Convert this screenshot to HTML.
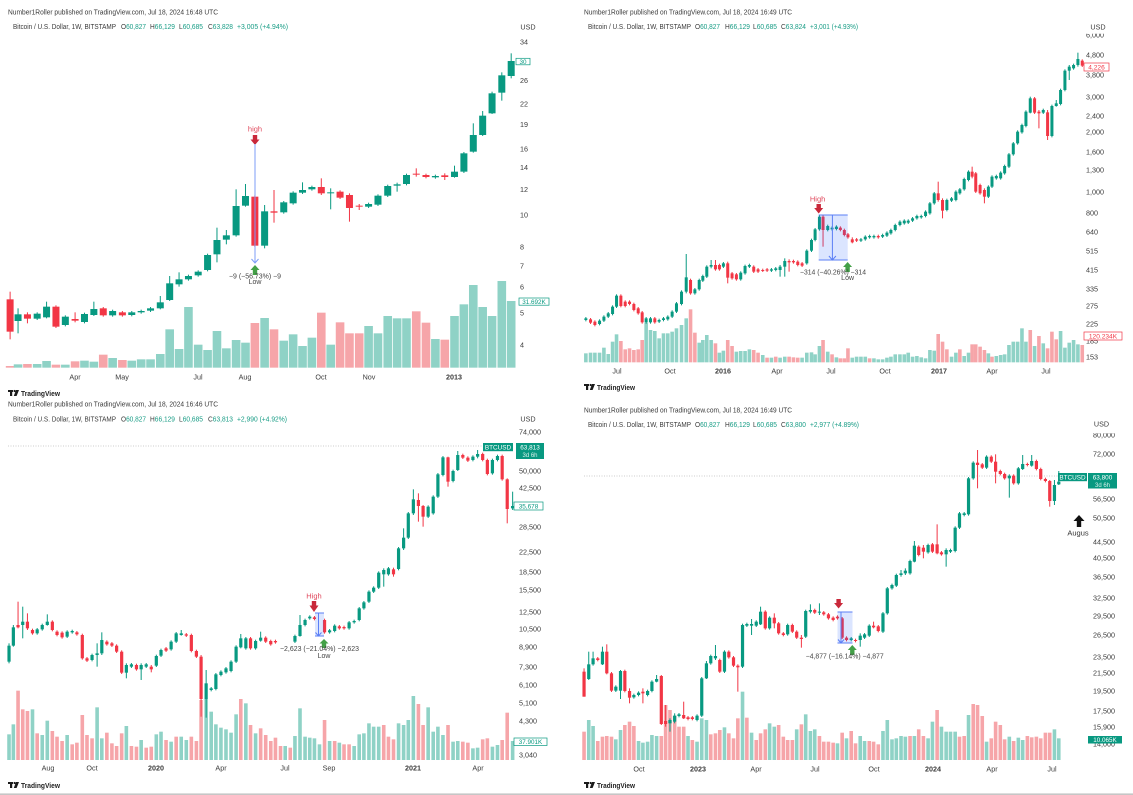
<!DOCTYPE html>
<html><head><meta charset="utf-8"><style>
html,body{margin:0;padding:0;background:#fff;}
svg{display:block;font-family:"Liberation Sans",sans-serif;}
.h{font-size:7px;fill:#3a3a3a}
.ax{font-size:7.2px;fill:#3b3b3b}
.tm{font-size:7.2px;fill:#3b3b3b;text-anchor:middle}
.b{font-weight:bold}
.gr{fill:#179c85}
.dk{fill:#3a3a3a}
.ann{font-size:7px;fill:#444;text-anchor:middle}
.tv{font-size:7.5px;fill:#222;font-weight:bold}
</style></head><body>
<svg id="s" width="1133" height="795" viewBox="0 0 1133 795" xmlns="http://www.w3.org/2000/svg">
<rect width="1133" height="795" fill="#fff"/>
<!-- price lines -->
<line x1="8" y1="446" x2="483" y2="446" stroke="#bdbdbd" stroke-width="0.8" stroke-dasharray="1,1.5"/>
<line x1="584" y1="476" x2="1058" y2="476" stroke="#bdbdbd" stroke-width="0.8" stroke-dasharray="1,1.5"/>
<g id="g1"></g><g id="g2"></g><g id="g3"></g><g id="g4"></g>

<!-- ===== headers ===== -->
<text class="h" x="8" y="14.5" textLength="210" lengthAdjust="spacingAndGlyphs">Number1Roller published on TradingView.com, Jul 18, 2024 16:48 UTC</text>
<text class="h" x="584" y="14.5" textLength="208" lengthAdjust="spacingAndGlyphs">Number1Roller published on TradingView.com, Jul 18, 2024 16:49 UTC</text>
<text class="h" x="8" y="406.5" textLength="210" lengthAdjust="spacingAndGlyphs">Number1Roller published on TradingView.com, Jul 18, 2024 16:46 UTC</text>
<text class="h" x="584" y="412.5" textLength="208" lengthAdjust="spacingAndGlyphs">Number1Roller published on TradingView.com, Jul 18, 2024 16:49 UTC</text>

<!-- legend P1 -->
<g class="h">
<text x="13" y="28.8" textLength="103" lengthAdjust="spacingAndGlyphs">Bitcoin / U.S. Dollar, 1W, BITSTAMP</text>
<text x="121" y="28.8" textLength="25" lengthAdjust="spacingAndGlyphs"><tspan class="dk">O</tspan><tspan class="gr">60,827</tspan></text>
<text x="150" y="28.8" textLength="25" lengthAdjust="spacingAndGlyphs"><tspan class="dk">H</tspan><tspan class="gr">66,129</tspan></text>
<text x="179" y="28.8" textLength="24" lengthAdjust="spacingAndGlyphs"><tspan class="dk">L</tspan><tspan class="gr">60,685</tspan></text>
<text x="208" y="28.8" textLength="25" lengthAdjust="spacingAndGlyphs"><tspan class="dk">C</tspan><tspan class="gr">63,828</tspan></text>
<text class="gr" x="237" y="28.8" textLength="51" lengthAdjust="spacingAndGlyphs">+3,005 (+4.94%)</text>
</g>
<!-- legend P2 -->
<g class="h">
<text x="588" y="28.8" textLength="103" lengthAdjust="spacingAndGlyphs">Bitcoin / U.S. Dollar, 1W, BITSTAMP</text>
<text x="695" y="28.8" textLength="25" lengthAdjust="spacingAndGlyphs"><tspan class="dk">O</tspan><tspan class="gr">60,827</tspan></text>
<text x="725" y="28.8" textLength="25" lengthAdjust="spacingAndGlyphs"><tspan class="dk">H</tspan><tspan class="gr">66,129</tspan></text>
<text x="753" y="28.8" textLength="24" lengthAdjust="spacingAndGlyphs"><tspan class="dk">L</tspan><tspan class="gr">60,685</tspan></text>
<text x="781" y="28.8" textLength="25" lengthAdjust="spacingAndGlyphs"><tspan class="dk">C</tspan><tspan class="gr">63,824</tspan></text>
<text class="gr" x="810" y="28.8" textLength="48" lengthAdjust="spacingAndGlyphs">+3,001 (+4.93%)</text>
</g>
<!-- legend P3 -->
<g class="h">
<text x="13" y="421.3" textLength="103" lengthAdjust="spacingAndGlyphs">Bitcoin / U.S. Dollar, 1W, BITSTAMP</text>
<text x="121" y="421.3" textLength="25" lengthAdjust="spacingAndGlyphs"><tspan class="dk">O</tspan><tspan class="gr">60,827</tspan></text>
<text x="150" y="421.3" textLength="25" lengthAdjust="spacingAndGlyphs"><tspan class="dk">H</tspan><tspan class="gr">66,129</tspan></text>
<text x="179" y="421.3" textLength="24" lengthAdjust="spacingAndGlyphs"><tspan class="dk">L</tspan><tspan class="gr">60,685</tspan></text>
<text x="208" y="421.3" textLength="25" lengthAdjust="spacingAndGlyphs"><tspan class="dk">C</tspan><tspan class="gr">63,813</tspan></text>
<text class="gr" x="237" y="421.3" textLength="50" lengthAdjust="spacingAndGlyphs">+2,990 (+4.92%)</text>
</g>
<!-- legend P4 -->
<g class="h">
<text x="588" y="426.8" textLength="103" lengthAdjust="spacingAndGlyphs">Bitcoin / U.S. Dollar, 1W, BITSTAMP</text>
<text x="695" y="426.8" textLength="25" lengthAdjust="spacingAndGlyphs"><tspan class="dk">O</tspan><tspan class="gr">60,827</tspan></text>
<text x="725" y="426.8" textLength="25" lengthAdjust="spacingAndGlyphs"><tspan class="dk">H</tspan><tspan class="gr">66,129</tspan></text>
<text x="753" y="426.8" textLength="24" lengthAdjust="spacingAndGlyphs"><tspan class="dk">L</tspan><tspan class="gr">60,685</tspan></text>
<text x="781" y="426.8" textLength="25" lengthAdjust="spacingAndGlyphs"><tspan class="dk">C</tspan><tspan class="gr">63,800</tspan></text>
<text class="gr" x="810" y="426.8" textLength="49" lengthAdjust="spacingAndGlyphs">+2,977 (+4.89%)</text>
</g>

<!-- ===== USD ===== -->
<g class="ax" text-anchor="middle">
<text x="528" y="29.5">USD</text>
<text x="1098" y="29.5">USD</text>
<text x="528" y="421.5">USD</text>
<text x="1101.5" y="426.5">USD</text>
</g>

<!-- ===== price axis P1 ===== -->
<g class="ax">
<text x="520" y="44.5">34</text><text x="520" y="83">26</text><text x="520" y="106.5">22</text>
<text x="520" y="127">19</text><text x="520" y="151.5">16</text><text x="520" y="170">14</text>
<text x="520" y="192">12</text><text x="520" y="217.5">10</text><text x="520" y="249.5">8</text>
<text x="520" y="268.5">7</text><text x="520" y="289.5">6</text><text x="520" y="315.5">5</text>
<text x="520" y="347.5">4</text>
</g>
<!-- P2 -->
<g class="ax">
<text x="1086" y="37.5">6,000</text>
<text x="1086" y="57.5">4,800</text><text x="1086" y="77.5">3,800</text><text x="1086" y="99.5">3,000</text>
<text x="1086" y="118.5">2,400</text><text x="1086" y="134.5">2,000</text><text x="1086" y="154.5">1,600</text>
<text x="1086" y="172.5">1,300</text><text x="1086" y="194.5">1,000</text><text x="1086" y="215.5">800</text>
<text x="1086" y="234.5">640</text><text x="1086" y="253.5">515</text><text x="1086" y="272.5">415</text>
<text x="1086" y="291.5">335</text><text x="1086" y="308.5">275</text><text x="1086" y="326.5">225</text>
<text x="1086" y="343.5">185</text><text x="1086" y="359.5">153</text>
</g>
<rect x="1080" y="30.5" width="45" height="3.2" fill="#fff"/>
<!-- P3 -->
<g class="ax">
<text x="519" y="434.5">74,000</text><text x="519" y="473.5">50,000</text><text x="519" y="490.5">42,500</text>
<text x="519" y="507.5">35,500</text>
<text x="519" y="529.5">28,500</text><text x="519" y="554.5">22,500</text><text x="519" y="574.5">18,500</text>
<text x="519" y="592.5">15,500</text><text x="519" y="614.5">12,500</text><text x="519" y="631.5">10,500</text>
<text x="519" y="649.5">8,900</text><text x="519" y="669.5">7,300</text><text x="519" y="687.5">6,100</text>
<text x="519" y="705.5">5,100</text><text x="519" y="723.5">4,300</text><text x="519" y="757.5">3,040</text>
</g>
<!-- P4 -->
<g class="ax">
<text x="1093" y="437.5">80,000</text>
<text x="1093" y="456.5">72,000</text><text x="1093" y="501.5">56,500</text><text x="1093" y="520.5">50,500</text>
<text x="1093" y="544.5">44,500</text><text x="1093" y="560.5">40,500</text><text x="1093" y="579.5">36,500</text>
<text x="1093" y="600.5">32,500</text><text x="1093" y="618.5">29,500</text><text x="1093" y="637.5">26,500</text>
<text x="1093" y="659.5">23,500</text><text x="1093" y="675.5">21,500</text><text x="1093" y="693.5">19,500</text>
<text x="1093" y="713.5">17,500</text><text x="1093" y="729.5">15,900</text><text x="1093" y="746.5">14,000</text>
</g>
<rect x="1088" y="429.8" width="40" height="3.4" fill="#fff"/>

<!-- ===== price label boxes ===== -->
<rect x="516" y="58.3" width="14" height="6.5" fill="#fff" stroke="#089981" stroke-width="0.7"/>
<text x="523" y="63.8" font-size="6.3" fill="#089981" text-anchor="middle">30</text>
<rect x="519" y="298" width="30" height="7.2" fill="#fff" stroke="#089981" stroke-width="0.7"/>
<text x="534" y="303.8" font-size="6.3" fill="#089981" text-anchor="middle">31.692K</text>

<rect x="1084" y="63" width="25" height="8" fill="#fff" stroke="#f23645" stroke-width="0.7"/>
<text x="1096.5" y="69.4" font-size="6.6" fill="#f23645" text-anchor="middle">4,226</text>
<rect x="1084" y="332" width="38" height="8" fill="#fff" stroke="#f23645" stroke-width="0.7"/>
<text x="1103" y="338.4" font-size="6.6" fill="#f23645" text-anchor="middle">120.234K</text>

<rect x="483" y="443" width="30" height="8.2" fill="#089981"/>
<text x="498" y="449.5" font-size="6.4" fill="#fff" text-anchor="middle">BTCUSD</text>
<rect x="516" y="443" width="28" height="16" fill="#089981"/>
<text x="530" y="449.5" font-size="6.4" fill="#fff" text-anchor="middle">63,813</text>
<text x="530" y="457" font-size="6" fill="#d8f0ea" text-anchor="middle">3d 6h</text>
<rect x="514" y="502" width="29" height="8" fill="#fff" stroke="#089981" stroke-width="0.7"/>
<text x="528.5" y="508.3" font-size="6.4" fill="#089981" text-anchor="middle">35,678</text>
<rect x="514" y="738" width="33" height="7.5" fill="#fff" stroke="#089981" stroke-width="0.7"/>
<text x="530.5" y="744" font-size="6.3" fill="#089981" text-anchor="middle">37.901K</text>

<rect x="1058" y="473" width="29" height="8.2" fill="#089981"/>
<text x="1072.5" y="479.5" font-size="6.4" fill="#fff" text-anchor="middle">BTCUSD</text>
<rect x="1088" y="473" width="29" height="15.5" fill="#089981"/>
<text x="1102.5" y="479.5" font-size="6.4" fill="#fff" text-anchor="middle">63,800</text>
<text x="1102.5" y="486.8" font-size="6" fill="#d8f0ea" text-anchor="middle">3d 6h</text>
<rect x="1088" y="736" width="34" height="7.5" fill="#089981"/>
<text x="1105" y="742" font-size="6.3" fill="#fff" text-anchor="middle">10.065K</text>

<!-- ===== time axes ===== -->
<g class="tm">
<text x="75" y="379.5">Apr</text><text x="122" y="379.5">May</text><text x="198" y="379.5">Jul</text>
<text x="245" y="379.5">Aug</text><text x="321" y="379.5">Oct</text><text x="369" y="379.5">Nov</text>
<text x="454" y="379.5" class="b">2013</text>

<text x="617" y="373.5">Jul</text><text x="670" y="373.5">Oct</text><text x="723" y="373.5" class="b">2016</text>
<text x="777" y="373.5">Apr</text><text x="831" y="373.5">Jul</text><text x="885" y="373.5">Oct</text>
<text x="939" y="373.5" class="b">2017</text><text x="992" y="373.5">Apr</text><text x="1046" y="373.5">Jul</text>

<text x="48" y="770.5">Aug</text><text x="92" y="770.5">Oct</text><text x="156" y="770.5" class="b">2020</text>
<text x="221" y="770.5">Apr</text><text x="285" y="770.5">Jul</text><text x="329" y="770.5">Sep</text>
<text x="413" y="770.5" class="b">2021</text><text x="478" y="770.5">Apr</text>

<text x="639" y="771.5">Oct</text><text x="698" y="771.5" class="b">2023</text><text x="756" y="771.5">Apr</text>
<text x="815" y="771.5">Jul</text><text x="874" y="771.5">Oct</text><text x="933" y="771.5" class="b">2024</text>
<text x="992" y="771.5">Apr</text><text x="1052" y="771.5">Jul</text>
</g>

<!-- ===== TradingView logos ===== -->
<g fill="#1a1a1a">
<rect x="8" y="390" width="5" height="2"/><rect x="10" y="390" width="2.2" height="6"/><circle cx="14.6" cy="391" r="1.1"/><polygon points="16,390 19,390 16.6,396 13.8,396"/>
<rect x="584" y="384" width="5" height="2"/><rect x="586" y="384" width="2.2" height="6"/><circle cx="590.6" cy="385" r="1.1"/><polygon points="592,384 595,384 592.6,390 589.8,390"/>
<rect x="8" y="782" width="5" height="2"/><rect x="10" y="782" width="2.2" height="6"/><circle cx="14.6" cy="783" r="1.1"/><polygon points="16,782 19,782 16.6,788 13.8,788"/>
<rect x="584" y="782" width="5" height="2"/><rect x="586" y="782" width="2.2" height="6"/><circle cx="590.6" cy="783" r="1.1"/><polygon points="592,782 595,782 592.6,788 589.8,788"/>
</g>
<text class="tv" x="21" y="396" textLength="39" lengthAdjust="spacingAndGlyphs">TradingView</text>
<text class="tv" x="597" y="390" textLength="38" lengthAdjust="spacingAndGlyphs">TradingView</text>
<text class="tv" x="21" y="788" textLength="39" lengthAdjust="spacingAndGlyphs">TradingView</text>
<text class="tv" x="597" y="788" textLength="38" lengthAdjust="spacingAndGlyphs">TradingView</text>

<!-- ===== annotations P1 ===== -->
<text x="255" y="131.5" font-size="7.5" fill="#e0485c" text-anchor="middle">high</text>
<g fill="#c9283a"><rect x="252.8" y="135" width="4.4" height="5"/><polygon points="250.5,139.5 259.5,139.5 255,145"/></g>
<line x1="255" y1="144" x2="255" y2="263" stroke="#7d9cf7" stroke-width="1"/>
<polyline points="251.5,259 255,263 258.5,259" fill="none" stroke="#7d9cf7" stroke-width="1"/>
<g fill="#43a047"><polygon points="255,265 250.5,270 259.5,270"/><rect x="252.8" y="269.5" width="4.4" height="5.5"/></g>
<text class="ann" x="255" y="278.5" textLength="52" lengthAdjust="spacingAndGlyphs">−9 (−56.73%) −9</text>
<text class="ann" x="255" y="283.8" font-size="7.5" fill="#333">Low</text>

<!-- P2 -->
<rect x="818.7" y="215" width="29" height="45" fill="rgba(41,98,255,0.17)"/>
<line x1="818.7" y1="215" x2="847.7" y2="215" stroke="#5b7ff6" stroke-width="1"/>
<line x1="818.7" y1="260" x2="847.7" y2="260" stroke="#5b7ff6" stroke-width="1"/>
<line x1="832.4" y1="215" x2="832.4" y2="260" stroke="#5b7ff6" stroke-width="1"/>
<polyline points="828.9,256 832.4,260 835.9,256" fill="none" stroke="#5b7ff6" stroke-width="1"/>
<text x="817.6" y="201.5" font-size="7.5" fill="#e0485c" text-anchor="middle">High</text>
<g fill="#c9283a"><rect x="816.5" y="204" width="4.4" height="4.5"/><polygon points="814.2,208 823.2,208 818.7,213.5"/></g>
<g fill="#43a047"><polygon points="847.6,262 843.1,267 852.1,267"/><rect x="845.4" y="266.5" width="4.4" height="5.5"/></g>
<text class="ann" x="833" y="274.5" textLength="66" lengthAdjust="spacingAndGlyphs">−314 (−40.26%) −314</text>
<text class="ann" x="847.6" y="279.8" font-size="7.5" fill="#333">Low</text>

<!-- P3 -->
<rect x="315" y="613" width="9" height="23" fill="rgba(41,98,255,0.17)"/>
<line x1="315" y1="613" x2="324" y2="613" stroke="#5b7ff6" stroke-width="1"/>
<line x1="315" y1="636" x2="324" y2="636" stroke="#5b7ff6" stroke-width="1"/>
<line x1="318.5" y1="613" x2="318.5" y2="636" stroke="#5b7ff6" stroke-width="1"/>
<polyline points="315.5,632.5 318.5,636 321.5,632.5" fill="none" stroke="#5b7ff6" stroke-width="1"/>
<text x="314" y="598.5" font-size="7.5" fill="#e0485c" text-anchor="middle">High</text>
<g fill="#c9283a"><rect x="311.8" y="601" width="4.4" height="5"/><polygon points="309.5,605.5 318.5,605.5 314,612"/></g>
<g fill="#43a047"><polygon points="324,639 319.5,643.5 328.5,643.5"/><rect x="321.8" y="643" width="4.4" height="5"/></g>
<text class="ann" x="319.5" y="650.8" textLength="79" lengthAdjust="spacingAndGlyphs">−2,623 (−21.04%) −2,623</text>
<text class="ann" x="324" y="657.8" font-size="7.5" fill="#333">Low</text>

<!-- P4 -->
<rect x="837.5" y="612" width="15" height="31" fill="rgba(41,98,255,0.17)"/>
<line x1="837.5" y1="612" x2="852.5" y2="612" stroke="#5b7ff6" stroke-width="1"/>
<line x1="837.5" y1="643" x2="852.5" y2="643" stroke="#5b7ff6" stroke-width="1"/>
<line x1="841" y1="612" x2="841" y2="643" stroke="#5b7ff6" stroke-width="1"/>
<polyline points="838,639.5 841,643 844,639.5" fill="none" stroke="#5b7ff6" stroke-width="1"/>
<g fill="#c9283a"><rect x="836.4" y="599" width="4.4" height="4.5"/><polygon points="834.1,603 843.1,603 838.6,608.5"/></g>
<g fill="#43a047"><polygon points="852.3,645 847.8,650 856.8,650"/><rect x="850.1" y="649.5" width="4.4" height="5.5"/></g>
<text class="ann" x="844.7" y="658.5" textLength="78" lengthAdjust="spacingAndGlyphs">−4,877 (−16.14%) −4,877</text>
<g fill="#111"><polygon points="1079,515 1073.5,521 1084.5,521"/><rect x="1076.8" y="520.5" width="4.4" height="6.5"/></g>
<text x="1078" y="535.5" font-size="7.5" fill="#333" text-anchor="middle">Augus</text>

<rect x="0" y="793.4" width="1133" height="1.6" fill="#c6c6c6"/>
</svg>
<script>
const G='#089981',R='#f23645',GV='#8fd2c6',RV='#f6a5a9';
const NS='http://www.w3.org/2000/svg';
function mk(g,t,a){const e=document.createElementNS(NS,t);for(const k in a)e.setAttribute(k,a[k]);g.appendChild(e);}
function draw(id,ox,oy,cw,vw,vb,C,V){
 const g=document.getElementById(id);
 const X=z=>z/2.77+ox, Y=z=>z/3+oy, yb=Y(vb);
 V.split(',').forEach(s=>{const m=s.trim().match(/^(\d+)([gr])(\d+)$/);if(!m)return;const x=X(+m[1]),t=Y(+m[3]);
  mk(g,'rect',{x:(x-vw/2).toFixed(2),y:t.toFixed(2),width:vw,height:(yb-t).toFixed(2),fill:m[2]=='g'?GV:RV});});
 C.forEach(c=>{const x=X(c[0]),t=Y(c[1]),b=Y(c[2]),col=c[3]=='g'?G:R;
  const wt=Y(c[4]!==undefined?c[4]:c[1]-4),wb=Y(c[5]!==undefined?c[5]:c[2]+4);
  mk(g,'rect',{x:(x-0.5).toFixed(2),y:wt.toFixed(2),width:1,height:(wb-wt).toFixed(2),fill:col});
  mk(g,'rect',{x:(x-cw/2).toFixed(2),y:t.toFixed(2),width:cw,height:Math.max(b-t,1).toFixed(2),fill:col});});
}
const C1=[[28,898,995,'r',875,1018],[50,943,963,'g',925,1000],[76,943,956,'r',937,970],[103,941,956,'g'],[129,920,952,'g',905,955],[155,920,980,'r'],[181,950,975,'g'],[208,957,962,'r',937,967],[234,942,966,'g'],[260,927,945,'g',905,948],[286,925,946,'r'],[312,933,946,'g'],[339,937,946,'r'],[365,937,945,'g'],[391,933,937,'g'],[417,925,932,'g'],[444,907,925,'g',888,928],[470,850,900,'g',828,903],[496,838,853,'g',817,860],[522,828,838,'g'],[549,815,826,'g'],[575,765,810,'g'],[601,720,763,'g',683,787],[627,706,719,'g',690,733],[654,618,706,'g',568,710],[680,588,617,'g',552,620],[706,590,737,'r'],[733,634,737,'g',615,745],[759,634,638,'r',570,668],[786,607,637,'g'],[812,578,610,'g'],[838,570,578,'g',547,582],[864,561,568,'g'],[890,561,580,'r',535,585],[916,577,580,'g',565,628],[942,575,593,'r'],[968,585,624,'r',580,665],[995,617,620,'r',612,630],[1021,612,620,'g'],[1047,587,614,'g'],[1074,558,587,'g'],[1100,553,557,'g',548,575],[1126,525,552,'g'],[1153,521,524,'r',505,530],[1180,525,531,'r'],[1206,528,532,'g'],[1232,526,531,'r',520,540],[1259,515,531,'g',497,533],[1285,460,515,'g'],[1311,405,455,'g',370,458],[1337,347,405,'g',333,408],[1363,280,340,'g',275,342],[1390,226,278,'g',217,302],[1416,183,228,'g',160,235]];
const V1="28r1098,50g1093,76r1092,103g1092,129g1083,155r1094,181g1094,208r1084,234g1082,260g1085,286r1064,312g1074,339r1080,365g1082,391g1078,417g1078,444g1062,470g988,496g1047,522g921,549g1034,575g1050,601g993,627g1045,654g1020,680g1028,706r969,733g954,759r988,786g1022,812g1003,838g1038,864g1013,890r938,916g1034,942r967,968r1000,995r1000,1021g978,1047g1000,1074g948,1100g955,1126g955,1153r934,1180r968,1206g1017,1232r1019,1259g948,1285g913,1311g855,1337g921,1363g948,1390g843,1416g903";
const C2=[[55,955,960,'g'],[68,958,968,'r'],[80,965,975,'r'],[93,962,972,'g'],[105,950,962,'g'],[117,940,950,'g'],[129,920,942,'g'],[140,887,920,'g'],[152,887,918,'r'],[164,905,918,'r'],[176,905,912,'r'],[188,912,930,'r'],[200,925,940,'r'],[211,937,967,'r'],[222,955,967,'g'],[234,955,967,'g'],[246,955,967,'r'],[258,960,965,'g'],[270,955,960,'g'],[282,950,958,'g'],[294,935,950,'g'],[306,910,935,'g'],[320,875,912,'g'],[333,832,875,'g',762,880],[345,840,880,'r'],[357,868,880,'g'],[369,840,868,'g'],[379,828,842,'g'],[390,800,830,'g'],[402,795,800,'g',780,805],[414,795,808,'r',780,812],[425,795,808,'r'],[436,790,800,'g'],[448,790,833,'r',785,850],[460,820,835,'r'],[472,823,838,'r'],[484,818,838,'g'],[496,798,820,'g'],[508,795,800,'g'],[520,800,815,'r'],[532,808,815,'r'],[545,810,812,'r'],[557,808,812,'r'],[569,808,812,'g'],[581,805,810,'g'],[593,800,810,'g',795,830],[606,783,800,'g',775,830],[618,783,787,'r',778,815],[630,783,787,'r'],[642,785,795,'r'],[654,790,797,'r'],[667,752,790,'g'],[680,720,752,'g'],[690,688,720,'g'],[702,650,688,'g'],[712,650,690,'r',645,740],[725,678,690,'g'],[737,683,688,'g'],[749,680,687,'g'],[760,683,690,'r'],[771,690,705,'r'],[781,703,712,'r'],[793,718,727,'r',712,730],[805,718,722,'r'],[817,718,722,'g'],[829,710,718,'g'],[841,708,712,'g'],[853,708,712,'g'],[865,708,712,'r'],[877,705,710,'g'],[889,698,707,'g'],[900,690,700,'g'],[912,675,690,'g'],[925,665,675,'g'],[937,662,670,'g'],[948,662,668,'g'],[960,655,662,'g'],[972,648,655,'g'],[984,648,652,'g'],[996,635,648,'g'],[1008,610,640,'g'],[1020,580,610,'g'],[1031,580,600,'r',545,605],[1043,600,632,'r',595,655],[1055,600,630,'g'],[1068,595,602,'g'],[1080,575,600,'g'],[1091,568,580,'g'],[1103,537,568,'g'],[1115,515,540,'g'],[1125,515,530,'r',500,535],[1135,520,575,'r'],[1147,555,580,'r'],[1159,570,590,'r',565,610],[1170,560,590,'g'],[1180,530,560,'g'],[1192,528,535,'g'],[1204,518,535,'g'],[1215,498,520,'g'],[1227,463,500,'g'],[1239,430,463,'g'],[1251,395,430,'g'],[1263,375,397,'g'],[1274,335,378,'g'],[1286,295,338,'g',290,340],[1298,295,338,'r'],[1310,335,340,'r',330,385],[1322,330,338,'g'],[1334,337,408,'r',330,420],[1346,318,408,'g'],[1358,310,318,'g',300,320],[1370,270,312,'g'],[1382,212,270,'g'],[1394,200,212,'g',195,240],[1406,195,205,'g'],[1418,177,195,'g',158,200],[1430,182,197,'r']];
const V2="55g1060,68g1058,80g1058,93g1058,105g1043,117g1062,129g1025,140g1003,152r1023,164r1048,176r1045,188r1050,200r1048,211r1020,222g968,234g990,246g993,258g1015,270g1000,282g1000,294g995,306g985,320g975,333g955,345r928,357r998,369g1028,379g1020,390g1005,402g1020,414r1030,425g1058,436g1052,448r1020,460r1038,472g1055,484g1053,496g1053,508g1048,520r1050,532r1058,545g1065,557r1073,569g1073,581r1070,593g1073,606g1070,618r1070,630r1072,642r1073,654g1073,667g1058,680g1057,690g1063,702g1038,712r1020,725g1055,737r1063,749g1072,760r1075,771r1075,781r1045,793g1073,805g1070,817g1070,829g1070,841r1075,853g1075,865g1078,877g1078,889g1073,900g1070,912g1063,925g1063,937g1063,948g1058,960g1070,972g1068,984g1072,996g1075,1008g1050,1020g1052,1031r1002,1043r1025,1055r1048,1068g1070,1080g1058,1091r1048,1103g1068,1115g1058,1125r1033,1135r1033,1147r1040,1159r1050,1170g1060,1180r1070,1192g1068,1204g1065,1215g1063,1227g1035,1239g1025,1251g1025,1263g985,1274g1025,1286r990,1298g1038,1310r1008,1322g1030,1334r1045,1346r995,1358r1018,1370g993,1382g1043,1394g1028,1406g1020,1418g1033,1430r1035";
const C3=[[25,752,800,'g',745,805],[37,697,752,'g',690,755],[50,690,697,'r',620,700],[63,680,690,'g',635,730],[76,680,700,'r',655,705],[90,705,715,'r'],[103,703,715,'g'],[117,690,703,'g'],[131,680,690,'g',658,692],[145,680,705,'r'],[158,710,720,'r'],[172,713,727,'r'],[186,710,725,'g'],[200,708,712,'g'],[213,712,718,'r'],[228,720,790,'r'],[241,790,797,'r'],[255,780,795,'g'],[269,775,780,'g',745,815],[282,735,775,'g',712,780],[296,740,748,'r'],[310,745,752,'r'],[323,752,770,'r'],[337,770,833,'r'],[350,810,833,'g',805,850],[364,808,815,'g'],[378,810,823,'r'],[391,810,823,'g',805,855],[405,808,815,'g'],[419,815,823,'r',810,832],[433,783,812,'g'],[446,765,782,'g'],[460,760,767,'r'],[474,740,763,'g'],[488,715,740,'g'],[502,715,720,'g',705,722],[516,718,722,'r'],[530,720,768,'r'],[544,768,785,'r'],[557,785,912,'r',780,965],[571,865,912,'g',825,968],[585,880,885,'g'],[598,838,882,'g'],[612,830,840,'g'],[626,820,832,'g'],[640,800,828,'g'],[654,755,800,'g'],[667,730,757,'g',717,760],[681,730,760,'g'],[694,730,760,'r'],[708,738,760,'g'],[722,728,737,'g',710,740],[736,728,740,'r'],[750,738,748,'r'],[763,738,742,'r'],[817,723,740,'g'],[831,690,723,'g',660,725],[845,675,690,'g'],[858,665,670,'g'],[871,667,672,'r'],[899,675,712,'r'],[913,706,712,'g'],[927,692,708,'g'],[940,694,700,'r'],[953,696,700,'r'],[967,682,700,'g'],[981,678,682,'g'],[995,640,675,'g'],[1008,622,640,'g'],[1022,590,620,'g'],[1035,578,590,'g'],[1049,533,578,'g'],[1063,525,538,'g',520,575],[1076,520,538,'g'],[1090,523,538,'r',518,545],[1104,460,522,'g'],[1118,428,460,'g',400,465],[1131,355,428,'g'],[1145,313,355,'g',283,360],[1159,315,333,'r',295,380],[1172,333,365,'r',330,395],[1186,335,365,'g'],[1200,305,355,'g'],[1213,238,305,'g'],[1227,187,240,'g'],[1241,187,260,'r',185,275],[1255,228,258,'g'],[1268,180,225,'g',168,228],[1282,180,188,'r'],[1296,188,197,'r'],[1310,185,195,'g'],[1323,177,185,'g',165,190],[1337,177,195,'r'],[1350,195,237,'r'],[1364,195,235,'g'],[1378,183,195,'g'],[1391,183,253,'r'],[1405,253,342,'r',250,385],[1420,333,340,'g',290,345]];
const V3="25g1018,37g988,50r887,63r943,76r948,90g943,103r1015,117g1020,131g977,145r1008,158r1025,172r1038,186g1020,200r1048,213r1043,228r960,241r1020,255r1030,269g937,282g1030,296r1013,310r1045,323r1053,337r1015,350g993,364r1053,378r1055,391g1035,405r1058,419r1055,433g1018,446g1010,460r1035,474g1040,488r1025,502g1025,516g1035,530r1025,544r1038,557r915,571g912,585g950,598g988,612g998,626g1003,640g1013,654g958,667r912,681g925,694r990,708g1015,722r1000,736r1020,750r1038,763r1028,777r1053,790g1053,804r1058,817g1023,831g940,845g1025,858g1028,871g1030,885g1048,899r975,913g1038,927r1038,940g1043,953r1048,967r1048,981g1053,995g1018,1008g1015,1022g985,1035g995,1049g995,1063r990,1076r1025,1090r1033,1104g985,1118g990,1131g975,1145g903,1159r927,1172r990,1186g937,1200g1010,1213g995,1227g1020,1241r990,1255g1040,1268g1038,1282r1040,1296r1043,1310g1060,1323g1058,1337r1033,1350r1030,1364g1055,1378g1050,1391r1035,1405r953,1420g1038";
const C4=[[50,830,905,'r',820,905],[63,808,852,'g',770,855],[75,790,808,'g',770,812],[88,790,795,'r'],[101,770,808,'g',755,810],[113,770,835,'r',748,838],[126,835,887,'r'],[138,875,887,'g'],[151,828,887,'g',825,912],[163,828,888,'r'],[176,888,908,'r',880,925],[188,900,907,'g'],[201,893,900,'g'],[213,890,895,'r',880,925],[226,888,900,'g'],[238,860,888,'g'],[251,852,860,'g',840,862],[264,843,987,'r',840,990],[276,978,987,'r',930,995],[288,975,985,'g',970,1010],[301,962,980,'g',955,985],[313,958,963,'g'],[326,960,970,'r',920,972],[338,967,972,'r'],[350,967,972,'r'],[363,962,975,'g'],[376,850,962,'g'],[389,805,850,'g',798,852],[401,783,805,'g'],[414,783,790,'g',750,795],[426,795,830,'r'],[439,770,830,'g'],[451,770,787,'r'],[464,787,812,'r'],[476,812,817,'r',808,890],[489,690,815,'g'],[501,687,692,'g'],[514,687,692,'g',672,720],[527,680,692,'g'],[539,650,688,'g',635,690],[552,650,700,'r'],[564,668,700,'g'],[577,668,685,'r',655,700],[589,685,715,'r'],[602,715,720,'r'],[614,690,718,'g'],[627,690,710,'r'],[639,710,728,'r'],[652,728,732,'r',720,758],[664,648,725,'g'],[677,645,650,'g',628,655],[689,645,653,'r'],[702,650,652,'g',625,660],[714,652,658,'r'],[727,658,670,'r'],[740,668,675,'r'],[752,665,670,'r'],[765,670,728,'r'],[777,728,735,'r'],[790,730,735,'g'],[802,735,738,'r'],[815,722,735,'g',715,755],[827,718,728,'g'],[840,692,722,'g'],[852,692,697,'r',680,700],[865,694,708,'r'],[878,655,710,'g'],[890,580,655,'g'],[903,570,580,'g'],[915,540,572,'g'],[928,535,540,'g',525,545],[940,527,535,'g',520,540],[953,498,535,'g'],[965,452,500,'g',438,502],[977,455,480,'r'],[990,458,470,'r',450,490],[1003,450,472,'g'],[1015,448,470,'r'],[1028,448,475,'r',388,478],[1040,472,478,'r'],[1053,465,478,'g',460,515],[1065,465,470,'g'],[1078,398,468,'g'],[1090,355,398,'g'],[1103,355,360,'g'],[1115,250,358,'g'],[1128,203,250,'g'],[1140,203,210,'r',165,280],[1153,208,218,'r'],[1165,185,218,'g'],[1178,185,200,'r'],[1190,200,230,'r',178,265],[1203,228,237,'r'],[1215,237,250,'r'],[1228,242,250,'g',238,308],[1240,242,265,'r'],[1253,220,265,'g'],[1265,207,222,'g',180,225],[1278,207,210,'r'],[1290,198,212,'g',180,215],[1303,198,222,'r'],[1315,222,252,'r'],[1328,252,258,'r'],[1340,258,318,'r',255,335],[1353,270,318,'g',255,330],[1365,260,268,'g',228,270]];
const V4="50r1010,63g975,75g993,88r1038,101r1025,113r1023,126r1025,138g1033,151g1005,163r990,176r980,188r993,201g1038,213g1043,226g1040,238g1020,251g1023,264r1023,276r930,288r945,301r962,313r995,326r995,338g1023,350r1035,363g1040,376g970,389g975,401r1018,414r1015,426r1005,439g997,451r1015,464r1030,476r970,489g890,501r968,514g1013,527r1035,539r1015,552r1003,564g985,577g995,589r990,602r1025,614r1035,627r1035,639g1003,652r988,664g958,677g1008,689g1003,702r1023,714r1040,727r1040,740r1043,752g1045,765r1013,777g1030,790r1008,802r1045,815g1023,827g1038,840r1038,852r1040,865r1048,878g1008,890g975,903g1033,915g1030,928g1023,940g1025,953r1023,965g1023,977r1003,990r1023,1003g1030,1015g980,1028r945,1040g995,1053g1010,1065g1010,1078g1010,1090r1025,1103r1023,1115g960,1128r927,1140r930,1153r963,1165g1040,1178r1030,1190r980,1203r990,1215r1033,1228g1025,1240r1038,1253g1028,1265g1035,1278r1023,1290r1027,1303r1025,1315r1030,1328r1013,1340r1013,1353g1003,1365g1030";
draw('g1',0,0,7,8.6,1103,C1,V1);
draw('g2',566,0,3,3.6,1087,C2,V2);
draw('g3',0,395,3.2,3.6,1095,C3,V3);
draw('g4',566,395,3.2,3.6,1095,C4,V4);
</script>
</body></html>
